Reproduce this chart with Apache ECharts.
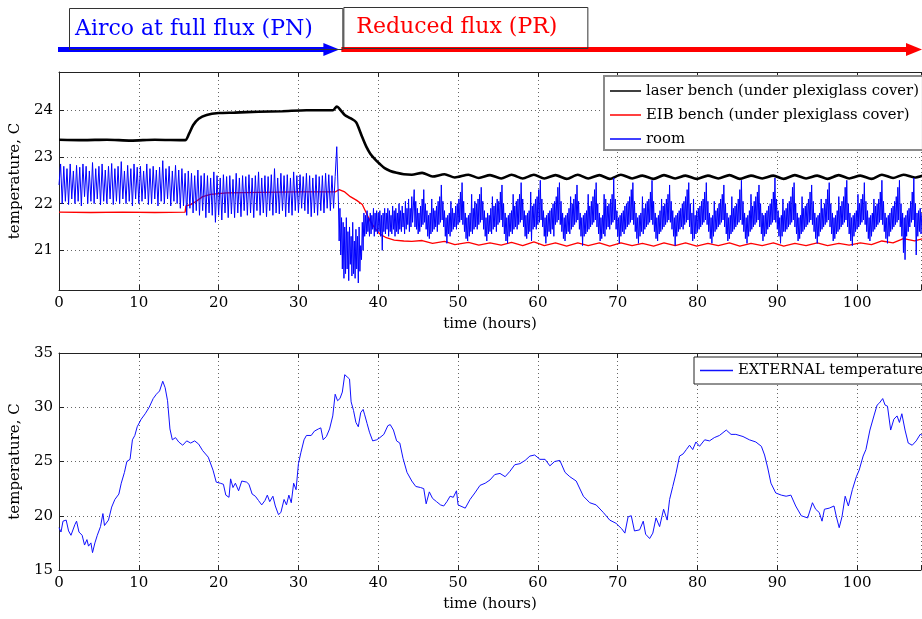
<!DOCTYPE html>
<html>
<head>
<meta charset="utf-8">
<script src="https://cdn.jsdelivr.net/npm/echarts@6/dist/echarts.min.js"></script>
<style>
  html, body { margin: 0; padding: 0; background: #fff; }
  #chart { width: 922px; height: 619px; }
</style>
</head>
<body>
<div id="chart"></div>
<script>
// room sensor, first part: one reading every 12 minutes from t = 0
const roomEarlyStart = 0;
const roomEarlyStep = 0.2;
const roomEarly = [
  22.4, 22.85, 22.0, 22.8, 22.05, 22.75, 21.98, 22.85, 22.1, 22.7,
  22.0, 22.82, 22.05, 22.78, 21.95, 22.85, 22.15, 22.8, 22.0, 22.7,
  22.05, 22.88, 22.0, 22.75, 22.1, 22.8, 21.97, 22.85, 22.05, 22.72,
  22.0, 22.8, 22.1, 22.86, 21.98, 22.75, 22.05, 22.8, 22.0, 22.9,
  22.1, 22.7, 22.0, 22.82, 22.05, 22.75, 21.95, 22.85, 22.1, 22.78,
  22.0, 22.8, 22.05, 22.7, 22.1, 22.85, 21.98, 22.75, 22.0, 22.8,
  22.1, 22.72, 21.95, 22.78, 22.05, 22.92, 22.0, 22.75, 22.1, 22.8,
  21.95, 22.7, 22.05, 22.82, 22.0, 22.72, 21.9, 22.75, 21.95, 22.65,
  21.75, 22.7, 21.9, 22.65, 21.8, 22.6, 21.85, 22.72, 21.75, 22.6,
  21.85, 22.65, 21.7, 22.6, 21.8, 22.55, 21.75, 22.68, 21.6, 22.6,
  21.75, 22.55, 21.65, 22.62, 21.8, 22.58, 21.7, 22.6, 21.78, 22.52,
  21.7, 22.65, 21.8, 22.55, 21.72, 22.6, 21.85, 22.58, 21.75, 22.62,
  21.8, 22.55, 21.7, 22.6, 21.85, 22.68, 21.75, 22.55, 21.8, 22.6,
  21.72, 22.58, 21.85, 22.62, 21.75, 22.75, 21.8, 22.55, 21.78, 22.65,
  21.85, 22.6, 21.72, 22.62, 21.8, 22.55, 21.75, 22.68, 21.85, 22.6,
  21.8, 22.62, 21.9, 22.58, 21.85, 22.65, 21.78, 22.6, 21.72, 22.55,
  21.8, 22.62, 21.75, 22.58, 21.85, 22.6, 21.8, 22.65, 21.9, 22.62,
  21.85, 22.6, 21.9, 22.58, 23.22
];

// room sensor, second part: one reading every 6 minutes from t = 35 h
const roomLateStart = 35;
const roomLateStep = 0.1;
const roomLate = [
  // 35-40 h
  22.1, 21.2, 21.9, 20.9, 21.7, 20.6, 21.6, 20.4, 21.5, 20.5,
  21.7, 20.6, 21.4, 20.35, 21.5, 20.7, 21.3, 20.45, 21.6, 20.5,
  21.2, 20.4, 21.45, 20.6, 21.3, 20.3, 21.5, 20.55, 21.1, 20.8,
  21.6, 21.0, 21.8, 21.3, 21.75, 21.35, 21.85, 21.4, 21.7, 21.3,
  21.8, 21.35, 21.75, 21.45, 21.9, 21.3, 21.8, 21.4, 21.85, 21.35,
  // 40-45 h
  21.8, 21.4, 21.85, 21.3, 21.75, 21.0, 21.8, 21.4, 21.9, 21.35,
  21.8, 21.45, 21.9, 21.3, 21.85, 21.4, 21.75, 21.35, 21.95, 21.45,
  21.85, 21.3, 21.9, 21.4, 21.8, 21.35, 22.0, 21.45, 21.85, 21.4,
  21.95, 21.5, 21.8, 21.35, 22.05, 21.45, 21.9, 21.55, 22.1, 21.4,
  21.9, 21.5, 22.15, 21.6, 21.95, 22.3, 21.5, 22.05, 21.45, 21.9,
  // from 45 h, cycle by cycle
  21.35, 21.8, 21.4, 21.95, 21.5, 22.1, 21.55, 22.3, 21.6, 22.0, 21.45, 21.85, 21.3, 21.75, 21.25, 21.8, 21.35, 22.1, 21.4, 21.9, 21.45, 21.85, 21.5, 21.95, 21.4, 22.05, 21.55,
  22.15, 21.6, 22.4, 21.65, 22.05, 21.5, 21.85, 21.3, 21.7, 21.15, 21.75, 21.35, 21.8, 21.3, 22.05, 21.4, 21.9, 21.45, 21.8, 21.5, 21.95, 21.45, 22.0, 21.55, 22.1, 21.6, 22.25,
  21.65, 22.45, 21.55, 22.05, 21.4, 21.8, 21.25, 21.7, 21.2, 21.75, 21.3, 21.8, 21.4, 22.2, 21.35, 21.9, 21.45, 22.05, 21.5, 22.0, 21.45, 22.1, 21.55, 22.2, 21.6, 22.35, 21.65,
  22.05, 21.45, 21.85, 21.3, 21.7, 21.2, 21.8, 21.35, 21.75, 21.4, 21.9, 21.35, 22.15, 21.45, 21.95, 21.5, 22.0, 21.4, 22.1, 21.55, 22.05, 21.6, 22.25, 21.65, 22.4, 21.5, 22.0,
  21.35, 21.8, 21.2, 21.7, 21.15, 21.75, 21.3, 21.8, 21.4, 21.85, 21.35, 22.2, 21.45, 21.95, 21.5, 22.05, 21.45, 22.1, 21.55, 22.2, 21.6, 22.45, 21.65, 22.1, 21.5, 21.85, 21.3,
  21.75, 21.25, 21.8, 21.35, 21.85, 21.4, 22.25, 21.2, 21.95, 21.45, 22.0, 21.5, 22.1, 21.45, 22.15, 21.55, 22.3, 21.6, 22.5, 21.65, 22.1, 21.5, 21.85, 21.3, 21.7, 21.15, 21.75,
  21.3, 21.8, 21.4, 21.85, 21.35, 21.9, 21.45, 22.0, 21.3, 22.05, 21.55, 22.15, 21.6, 22.35, 21.65, 22.45, 21.55, 22.05, 21.4, 21.8, 21.25, 21.7, 21.2, 21.75, 21.35, 21.8, 21.4,
  21.9, 21.35, 22.15, 21.45, 22.0, 21.5, 22.1, 21.55, 22.2, 21.6, 22.4, 21.65, 22.05, 21.45, 21.8, 21.3, 21.7, 21.1, 21.75, 21.3, 21.8, 21.35, 21.85, 21.4, 22.2, 21.45, 21.95,
  21.5, 22.05, 21.55, 22.15, 21.6, 22.3, 21.65, 22.45, 21.5, 22.0, 21.35, 21.8, 21.2, 21.7, 21.25, 21.75, 21.35, 22.2, 21.3, 22.1, 21.45, 21.95, 21.5, 22.0, 21.45, 22.1, 21.55,
  22.2, 21.6, 22.55, 21.65, 22.1, 21.45, 21.85, 21.3, 21.7, 21.15, 21.75, 21.3, 21.8, 21.4, 21.85, 21.35, 21.95, 21.45, 22.0, 21.5, 22.05, 21.55, 22.15, 21.6, 22.3, 21.65, 22.45,
  21.55, 22.05, 21.4, 21.8, 21.25, 21.7, 21.15, 21.75, 21.3, 21.8, 21.4, 22.15, 21.35, 21.9, 21.45, 22.0, 21.5, 22.05, 21.55, 22.1, 21.6, 22.25, 21.65, 22.5, 21.55, 22.05, 21.4,
  21.8, 21.25, 21.7, 21.2, 21.75, 21.35, 21.85, 21.4, 22.1, 21.45, 21.95, 21.5, 22.0, 21.55, 22.1, 21.6, 22.2, 21.65, 22.4, 21.6, 22.05, 21.45, 21.85, 21.3, 21.7, 21.1, 21.75,
  21.3, 21.8, 21.4, 21.85, 21.45, 21.9, 21.5, 22.0, 21.45, 22.05, 21.55, 22.15, 21.6, 22.3, 21.65, 22.45, 21.5, 22.0, 21.35, 21.8, 21.2, 22.1, 21.25, 21.75, 21.35, 21.85, 21.4,
  21.9, 21.45, 21.95, 21.5, 22.05, 21.55, 22.1, 21.6, 22.25, 21.65, 22.45, 21.55, 22.05, 21.4, 21.8, 21.25, 21.7, 21.15, 21.75, 21.3, 22.05, 21.4, 21.85, 21.45, 21.9, 21.5, 22.0,
  21.55, 22.1, 21.6, 22.2, 21.65, 22.4, 21.5, 22.0, 21.35, 21.8, 21.2, 21.7, 21.25, 21.75, 21.35, 22.15, 21.4, 21.9, 21.45, 21.95, 21.5, 22.0, 21.55, 22.1, 21.6, 22.3, 21.65,
  22.5, 21.55, 22.05, 21.4, 21.8, 21.25, 21.7, 21.15, 21.75, 21.3, 21.85, 21.4, 22.2, 21.45, 21.95, 21.5, 22.05, 21.55, 22.15, 21.6, 22.25, 21.65, 22.4, 21.5, 22.0, 21.35, 21.8,
  21.2, 21.75, 21.3, 21.8, 21.35, 21.85, 21.45, 21.95, 21.5, 22.0, 21.55, 22.1, 21.6, 22.25, 21.65, 22.55, 21.6, 22.1, 21.45, 21.85, 21.3, 21.7, 21.15, 21.75, 21.3, 22.1, 21.4,
  21.85, 21.4, 21.9, 21.45, 22.0, 21.5, 22.05, 21.55, 22.15, 21.6, 22.35, 21.65, 22.45, 21.5, 22.0, 21.35, 21.8, 21.2, 21.7, 21.25, 21.75, 21.35, 22.15, 21.4, 21.9, 21.45, 21.95,
  21.5, 22.0, 21.55, 22.1, 21.6, 22.25, 21.65, 22.4, 21.55, 22.05, 21.4, 21.8, 21.25, 21.7, 21.15, 21.75, 21.3, 21.8, 21.4, 22.1, 21.45, 21.9, 21.5, 22.0, 21.55, 22.1, 21.6,
  22.3, 21.65, 22.45, 21.5, 22.0, 21.35, 21.8, 21.2, 21.7, 21.25, 21.75, 21.35, 21.85, 21.4, 22.15, 21.45, 21.95, 21.5, 22.05, 21.55, 22.15, 21.6, 22.35, 21.65, 22.5, 21.5, 22.0,
  21.35, 21.8, 21.2, 21.7, 21.1, 21.75, 21.3, 21.8, 21.4, 21.85, 21.45, 22.2, 21.5, 22.0, 21.55, 22.1, 21.6, 22.2, 21.65, 22.45, 21.55, 22.05, 21.4, 21.85, 21.25, 21.7, 21.2,
  21.75, 21.3, 21.8, 21.4, 22.1, 21.45, 21.95, 21.5, 22.0, 21.55, 22.1, 21.6, 22.25, 21.65, 22.5, 21.55, 22.05, 21.4, 21.8, 21.25, 21.7, 21.15, 21.75, 21.3, 21.8, 21.4, 21.9,
  21.45, 21.95, 21.5, 22.05, 21.55, 22.15, 21.6, 22.35, 21.65, 22.5, 21.5, 22.0, 21.3, 21.8, 20.95, 21.7, 20.8, 21.75, 21.3, 21.85, 21.4, 21.9, 21.5, 22.05, 21.6, 22.25, 21.65,
  22.55, 21.5, 22.0, 20.9, 21.8, 21.3, 21.85, 21.4, 21.9, 21.35, 21.8
];

const laserHours = [
  0, 3, 6, 9, 12, 15.8, 16.3, 16.8, 17.5, 18.5,
  20, 22, 25, 28, 31, 34.3, 34.8, 35.3, 35.8, 36.5,
  37.2, 37.6, 38.0, 38.5, 39.0, 39.6, 40.2, 40.8, 41.5, 42.3,
  43.2, 44.2, 45.5, 46.8, 48.3, 49.6, 51.3, 52.6, 54.0, 55.4,
  56.7, 58.1, 59.5, 60.8, 62.2, 63.6, 65.0, 66.3, 67.7, 69.0,
  70.4, 71.8, 73.1, 74.5, 75.8, 77.2, 78.5, 79.9, 81.3, 82.6,
  84.0, 85.3, 86.7, 88.1, 89.5, 90.8, 92.2, 93.6, 95.0, 96.3,
  97.7, 99.0, 100.4, 101.8, 103.1, 104.5, 105.8, 107.2, 108.2
];
const laserTemps = [
  23.37, 23.36, 23.37, 23.35, 23.37, 23.36, 23.5, 23.68, 23.82, 23.9,
  23.94, 23.95, 23.97, 23.98, 24.0, 24.0, 24.08, 24.0, 23.9, 23.83,
  23.75, 23.6, 23.42, 23.22, 23.07, 22.95, 22.85, 22.76, 22.7, 22.66,
  22.63, 22.62, 22.66, 22.58, 22.63, 22.56, 22.62, 22.55, 22.61, 22.54,
  22.62, 22.54, 22.62, 22.54, 22.61, 22.53, 22.62, 22.54, 22.61, 22.53,
  22.62, 22.54, 22.6, 22.53, 22.61, 22.54, 22.6, 22.53, 22.6, 22.54,
  22.61, 22.53, 22.6, 22.54, 22.6, 22.53, 22.61, 22.54, 22.6, 22.53,
  22.61, 22.54, 22.6, 22.53, 22.62, 22.55, 22.62, 22.56, 22.6
];

const eibHours = [
  0, 4, 8, 12, 15.8, 15.9, 16.5, 17.2, 18, 19,
  21, 25, 30, 34.6, 35.1, 35.8, 36.5, 37.3, 38.0, 38.5,
  39.0, 39.6, 40.2, 41.0, 42.0, 43.2, 44.2, 45.5, 46.8, 48.3,
  49.6, 51.3, 52.6, 54.0, 55.4, 56.7, 58.1, 59.5, 60.8, 62.2,
  63.6, 65.0, 66.3, 67.7, 69.0, 70.4, 71.8, 73.1, 74.5, 75.8,
  77.2, 78.5, 79.9, 81.3, 82.6, 84.0, 85.3, 86.7, 88.1, 89.5,
  90.8, 92.2, 93.6, 95.0, 96.3, 97.7, 99.0, 100.4, 101.8, 103.1,
  104.5, 105.8, 107.2, 108.2
];
const eibTemps = [
  21.82, 21.81, 21.82, 21.81, 21.82, 21.95, 21.98, 22.05, 22.15, 22.2,
  22.23, 22.24, 22.25, 22.25, 22.3, 22.25, 22.15, 22.07, 21.98, 21.8,
  21.62, 21.47, 21.35, 21.27, 21.22, 21.2, 21.19, 21.21, 21.15, 21.19,
  21.12, 21.17, 21.11, 21.16, 21.11, 21.17, 21.1, 21.18, 21.1, 21.16,
  21.09, 21.16, 21.1, 21.16, 21.09, 21.16, 21.1, 21.15, 21.09, 21.16,
  21.1, 21.16, 21.09, 21.15, 21.1, 21.16, 21.09, 21.15, 21.1, 21.16,
  21.09, 21.15, 21.1, 21.16, 21.1, 21.15, 21.11, 21.16, 21.12, 21.2,
  21.16, 21.25, 21.2, 21.25
];

const extHours = [
  0, 0.25, 0.5, 0.9, 1.2, 1.5, 2.0, 2.2, 2.5, 2.9,
  3.2, 3.5, 3.7, 4.0, 4.2, 4.5, 4.8, 5.2, 5.5, 5.7,
  6.2, 6.6, 7.0, 7.5, 7.8, 8.2, 8.5, 8.9, 9.2, 9.5,
  9.8, 10.3, 10.8, 11.3, 11.8, 12.2, 12.6, 13.0, 13.3, 13.6,
  13.9, 14.2, 14.6, 15.0, 15.5, 16.0, 16.5, 17.0, 17.5, 18.0,
  18.7, 19.3, 19.7, 20.2, 20.6, 20.9, 21.3, 21.5, 21.8, 22.1,
  22.5, 22.9, 23.5, 23.8, 24.2, 24.6, 25.0, 25.4, 25.8, 26.1,
  26.4, 26.8, 27.1, 27.5, 27.8, 28.2, 28.5, 28.8, 29.1, 29.4,
  29.7, 30.0, 30.3, 30.7, 31.0, 31.6, 32.0, 32.5, 32.8, 33.1,
  33.5, 33.9, 34.3, 34.6, 34.9, 35.2, 35.5, 35.8, 36.1, 36.4,
  36.6, 36.9, 37.2, 37.5, 37.8, 38.1, 38.3, 38.6, 38.9, 39.3,
  39.8, 40.2, 40.7, 41.2, 41.5, 41.9, 42.3, 42.7, 43.1, 43.6,
  44.2, 44.7, 45.3, 45.7, 46.0, 46.4, 46.8, 47.3, 47.8, 48.2,
  48.6, 49.0, 49.4, 49.8, 50.0, 50.25, 50.9, 51.5, 52.1, 52.75,
  53.4, 54.0, 54.6, 55.25, 55.9, 56.5, 57.1, 57.75, 58.4, 59.0,
  59.6, 60.25, 60.9, 61.5, 62.1, 62.75, 63.4, 64.0, 64.8, 65.7,
  66.5, 67.3, 68.2, 69.0, 69.8, 70.5, 70.9, 71.3, 71.7, 72.1,
  72.75, 73.2, 73.5, 74.0, 74.4, 74.8, 75.25, 75.75, 76.2, 76.5,
  76.9, 77.3, 77.75, 78.2, 78.6, 79.0, 79.4, 79.8, 80.25, 80.9,
  81.5, 82.1, 82.75, 83.6, 84.2, 84.8, 85.7, 86.5, 87.3, 88.0,
  88.4, 88.8, 89.2, 89.8, 90.5, 91.1, 91.7, 92.3, 93.0, 93.8,
  94.4, 94.8, 95.25, 95.6, 95.9, 96.5, 97.1, 97.4, 97.75, 98.1,
  98.5, 98.9, 99.4, 99.9, 100.25, 100.75, 101.1, 101.6, 102.1, 102.5,
  102.8, 103.2, 103.5, 103.8, 104.2, 104.6, 105.0, 105.3, 105.6, 106.0,
  106.4, 106.9, 107.4, 107.9, 108.2
];
const extTemps = [
  18.9, 18.5, 19.5, 19.6, 18.6, 18.2, 19.2, 19.5, 18.5, 18.2,
  17.3, 17.8, 17.2, 17.5, 16.6, 17.5, 18.2, 19.0, 20.2, 19.1,
  19.6, 20.8, 21.5, 22.0, 23.0, 24.0, 25.0, 25.2, 27.0, 27.4,
  28.2, 28.9, 29.4, 30.0, 30.8, 31.2, 31.5, 32.4, 31.8, 30.6,
  28.0, 27.0, 27.2, 26.8, 26.5, 26.9, 26.7, 26.9, 26.6, 26.0,
  25.4, 24.2, 23.1, 23.0, 22.9, 21.9, 21.7, 23.4, 22.6, 23.0,
  22.3, 23.2, 23.1, 22.9, 22.0, 21.8, 21.4, 21.0, 21.4, 21.9,
  21.3, 21.8, 20.9, 20.1, 20.3, 21.5, 21.0, 21.9, 21.2, 23.0,
  22.4, 24.8, 25.8, 27.0, 27.4, 27.4, 27.8, 28.0, 28.1, 27.0,
  27.3, 28.0, 29.2, 31.2, 30.6, 30.8, 31.4, 33.0, 32.8, 32.6,
  30.5, 29.7, 28.6, 28.2, 29.5, 29.8, 29.3, 28.5, 27.7, 26.9,
  27.0, 27.2, 27.5, 28.3, 28.4, 27.9, 26.9, 26.7, 25.3, 24.0,
  23.2, 22.7, 22.6, 22.5, 21.1, 22.2, 21.6, 21.3, 21.0, 20.9,
  21.3, 21.8, 21.7, 22.3, 21.0, 20.9, 20.7, 21.5, 22.1, 22.8,
  23.0, 23.3, 23.8, 23.9, 23.6, 24.1, 24.7, 24.8, 25.1, 25.5,
  25.6, 25.2, 25.2, 24.6, 25.0, 25.1, 24.0, 23.6, 23.2, 21.8,
  21.2, 21.0, 20.3, 19.6, 19.3, 18.8, 18.4, 19.9, 20.0, 18.6,
  18.7, 19.5, 18.3, 17.9, 18.4, 19.8, 19.0, 20.6, 19.6, 21.5,
  22.7, 23.9, 25.5, 25.7, 26.1, 26.5, 26.1, 26.8, 26.4, 27.0,
  26.9, 27.2, 27.4, 27.9, 27.5, 27.5, 27.3, 27.0, 26.8, 26.4,
  25.6, 24.4, 23.0, 22.1, 21.9, 21.8, 21.9, 20.9, 20.0, 19.8,
  21.2, 20.6, 20.3, 19.5, 20.6, 20.7, 20.9, 19.9, 18.9, 19.9,
  21.8, 20.9, 22.4, 23.6, 24.2, 25.5, 26.1, 27.9, 29.2, 30.2,
  30.4, 30.8, 30.2, 30.1, 27.9, 28.9, 29.2, 28.6, 29.4, 27.9,
  26.7, 26.5, 26.9, 27.5, 27.4
];

// operating phases shown as arrows above the plots
const phaseNames = ['Airco at full flux (PN)', 'Reduced flux (PR)'];
const phaseStart = [0, 35];
const phaseEnd = [35, 108];
const phaseColors = ['#0000ff', '#ff0000'];

const seriesNames = [
  'laser bench (under plexiglass cover)',
  'EIB bench (under plexiglass cover)',
  'room',
  'EXTERNAL temperature'
];

const FONT = 'DejaVu Serif';
const zip = (xs, ys) => xs.map((x, i) => [x, ys[i]]);
const sampled = (start, step, ys) => ys.map((v, i) => [start + i * step, v]);

const chart = echarts.init(document.getElementById('chart'), null, { renderer: 'canvas' });

const axisColor = '#222';
const gridLine = { show: true, lineStyle: { color: '#666', type: [1, 3], width: 1 } };
const labelStyle = { fontFamily: FONT, fontSize: 15, color: '#000' };

function timeAxis(gridIndex, position) {
  const bottom = position === 'bottom';
  return {
    gridIndex,
    type: 'value',
    position,
    min: 0,
    max: 108,
    interval: 10,
    axisLine: { show: true, onZero: false, lineStyle: { color: axisColor, width: 1 } },
    axisTick: { show: true, inside: true, length: 5, lineStyle: { color: axisColor } },
    axisLabel: {
      show: bottom,
      margin: 6,
      ...labelStyle,
      formatter: (v) => (v % 10 === 0 ? String(v) : '')
    },
    splitLine: bottom ? gridLine : { show: false },
    name: bottom ? 'time (hours)' : '',
    nameLocation: 'middle',
    nameGap: 27,
    nameTextStyle: labelStyle
  };
}

function tempAxis(gridIndex, min, max, extra) {
  return Object.assign({
    gridIndex,
    type: 'value',
    min,
    max,
    axisLine: { show: true, onZero: false, lineStyle: { color: axisColor, width: 1 } },
    axisTick: { show: true, inside: true, length: 5, lineStyle: { color: axisColor } },
    axisLabel: {
      margin: 6,
      ...labelStyle,
      formatter: (v) => (Number.isInteger(v) ? String(v) : '')
    },
    splitLine: gridLine,
    name: 'temperature, C',
    nameLocation: 'middle',
    nameRotate: 90,
    nameGap: 26,
    nameTextStyle: labelStyle
  }, extra);
}

const legendBase = {
  orient: 'vertical',
  icon: 'rect',
  itemWidth: 31,
  itemHeight: 1.5,
  itemGap: 7,
  selectedMode: false,
  backgroundColor: '#fff',
  textStyle: { fontFamily: FONT, fontSize: 14.8, color: '#000', lineHeight: 17 }
};

const option = {
  animation: false,
  backgroundColor: '#fff',
  grid: [
    { left: 59, top: 72, width: 862, height: 218, outerBoundsMode: 'none', containLabel: false },
    { left: 59, top: 353, width: 862, height: 217, outerBoundsMode: 'none', containLabel: false }
  ],
  xAxis: [
    timeAxis(0, 'bottom'),
    timeAxis(1, 'bottom'),
    timeAxis(0, 'top'),
    timeAxis(1, 'top')
  ],
  yAxis: [
    tempAxis(0, 20.15, 24.82, { splitNumber: 4 }),
    tempAxis(1, 15, 35, { interval: 5 })
  ],
  legend: [
    Object.assign({}, legendBase, {
      left: 604,
      top: 76,
      padding: [6.5, 4, 2.5, 6],
      borderColor: '#8a8a8a',
      borderWidth: 2,
      data: seriesNames.slice(0, 3)
    }),
    Object.assign({}, legendBase, {
      left: 694,
      top: 357,
      itemWidth: 33,
      padding: [5, 4, 5, 6],
      borderColor: '#222',
      borderWidth: 1,
      data: [seriesNames[3]]
    })
  ],
  series: [
    {
      name: seriesNames[0],
      type: 'line',
      xAxisIndex: 0,
      yAxisIndex: 0,
      symbol: 'none',
      smooth: 0.25,
      color: '#000',
      lineStyle: { color: '#000', width: 2.6 },
      data: zip(laserHours, laserTemps)
    },
    {
      name: seriesNames[1],
      type: 'line',
      xAxisIndex: 0,
      yAxisIndex: 0,
      symbol: 'none',
      color: '#ff0000',
      lineStyle: { color: '#ff0000', width: 1.3 },
      data: zip(eibHours, eibTemps)
    },
    {
      name: seriesNames[2],
      type: 'line',
      xAxisIndex: 0,
      yAxisIndex: 0,
      symbol: 'none',
      color: '#0000ff',
      lineStyle: { color: '#0000ff', width: 1 },
      data: sampled(roomEarlyStart, roomEarlyStep, roomEarly)
        .concat(sampled(roomLateStart, roomLateStep, roomLate))
    },
    {
      name: seriesNames[3],
      type: 'line',
      xAxisIndex: 1,
      yAxisIndex: 1,
      symbol: 'none',
      color: '#1010ff',
      lineStyle: { color: '#1010ff', width: 1 },
      data: zip(extHours, extTemps)
    }
  ]
};

chart.setOption(option);

// header arrows placed on the same time scale as the plots
const px = (h) => chart.convertToPixel({ xAxisIndex: 0 }, h);
const arrowY = 49.5;
const graphics = [];
phaseNames.forEach((name, i) => {
  const x0 = px(phaseStart[i]) + (i === 0 ? -1 : 3);
  const tip = px(phaseEnd[i]) + 1;
  graphics.push({
    type: 'line',
    shape: { x1: x0, y1: arrowY, x2: tip - 10, y2: arrowY },
    style: { stroke: phaseColors[i], lineWidth: 5 }
  });
  graphics.push({
    type: 'polygon',
    shape: { points: [[tip - 16, arrowY - 6.5], [tip, arrowY], [tip - 16, arrowY + 6.5]] },
    style: { fill: phaseColors[i] }
  });
});
const boxes = [
  { x: px(0) + 10.5, y: 8.5, w: px(35) - px(0) - 6, h: 41, tx: px(0) + 16, ty: 29 },
  { x: px(35) + 5.5, y: 7.5, w: 244, h: 41, tx: px(35) + 18, ty: 27.5 }
];
boxes.forEach((b, i) => {
  graphics.push({
    type: 'rect',
    shape: { x: b.x, y: b.y, width: b.w, height: b.h },
    style: { fill: 'transparent', stroke: '#333', lineWidth: 1 }
  });
  graphics.push({
    type: 'text',
    x: b.tx,
    y: b.ty,
    style: {
      text: phaseNames[i],
      fill: phaseColors[i],
      fontFamily: FONT,
      fontSize: 22,
      align: 'left',
      verticalAlign: 'middle'
    }
  });
});
chart.setOption({ graphic: graphics });
</script>
</body>
</html>
